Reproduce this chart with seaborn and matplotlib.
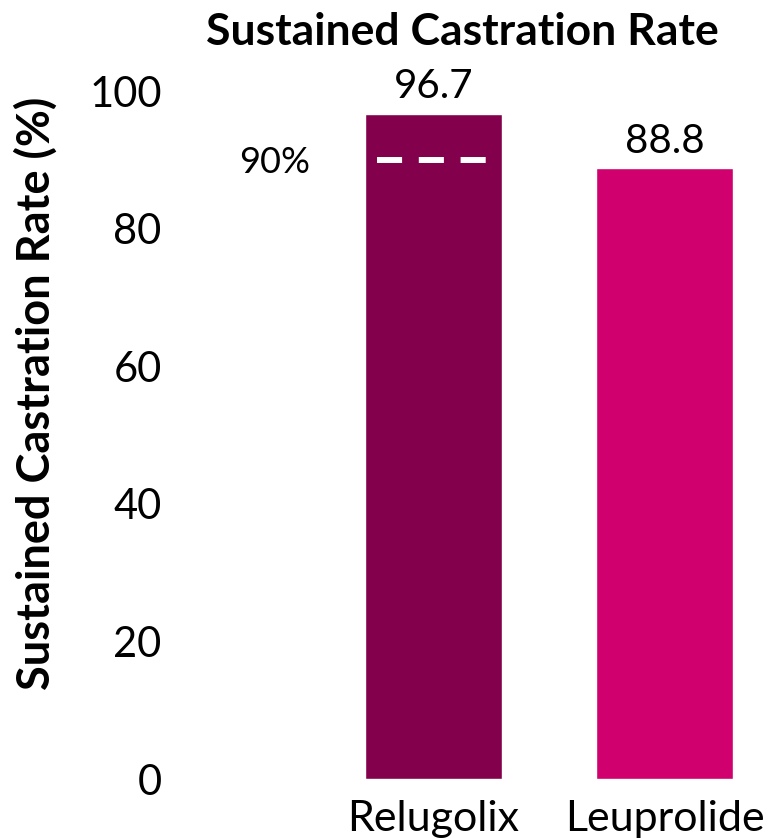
import matplotlib
matplotlib.use("Agg")
import matplotlib.pyplot as plt
import seaborn as sns
import pandas as pd

# Sustained castration rate by treatment arm
treatments = ["Relugolix", "Leuprolide"]
rates = [96.7, 88.8]
bar_colors = ["#83004C", "#D0006F"]
yticks = [0, 20, 40, 60, 80, 100]
threshold = 90

sns.set_theme(style="white")
plt.rcParams["font.family"] = ["Lato", "DejaVu Sans"]
plt.rcParams["text.color"] = "black"
plt.rcParams["xtick.color"] = "black"
plt.rcParams["ytick.color"] = "black"

W, H = 779, 838
fig = plt.figure(figsize=(W / 100, H / 100), dpi=100)

# axes placed in pixel terms: x from 170 to 779, y from 779 (0%) to 91 (100%)
ax_left, ax_right = 170, 779
y0_px, y100_px = 779, 91
ax = fig.add_axes([ax_left / W, (H - y0_px) / H,
                   (ax_right - ax_left) / W, (y0_px - y100_px) / H])

df = pd.DataFrame({"treatment": treatments, "rate": rates})
sns.barplot(data=df, x="treatment", y="rate", hue="treatment",
            palette=bar_colors, order=treatments, hue_order=treatments,
            width=0.593, legend=False, saturation=1, ax=ax)

spacing = 231.0
center0 = 433.5
ax.set_xlim((ax_left - center0) / spacing, (ax_right - center0) / spacing)
ax.set_ylim(0, 100)

# value labels above bars
for i, v in enumerate(rates):
    ax.annotate(f"{v:.1f}", xy=(i, v), xytext=(0, 11), textcoords="offset points",
                ha="center", va="baseline", fontsize=29, color="black")

# 90% reference line inside the first bar
ax.plot([(377 - center0) / spacing, (487 - center0) / spacing], [threshold, threshold],
        color="white", linewidth=4.3, linestyle=(0, (4.2, 2.8)), solid_capstyle="butt",
        dash_capstyle="butt")
ax.text((310 - center0) / spacing, threshold - 1.9, f"{threshold}%",
        ha="right", va="baseline", fontsize=26, color="black")

ax.set_yticks(yticks)
ax.set_yticklabels([str(t) for t in yticks], fontsize=30, color="black")
ax.tick_params(axis="y", length=0, pad=6, labelcolor="black")
ax.tick_params(axis="x", length=0, pad=15, labelsize=31, labelcolor="black")
ax.set_xlabel("")
ax.set_ylabel("")
for s in ax.spines.values():
    s.set_visible(False)

fig.text(462.5 / W, 1 - 45 / H, "Sustained Castration Rate", ha="center", va="baseline",
         fontsize=32, fontweight="bold", color="black")
fig.text(36 / W, 1 - 393 / H, "Sustained Castration Rate (%)", ha="center", va="center",
         rotation=90, fontsize=32.5, fontweight="bold", color="black")

fig.savefig("out.png", dpi=100, facecolor="white")
